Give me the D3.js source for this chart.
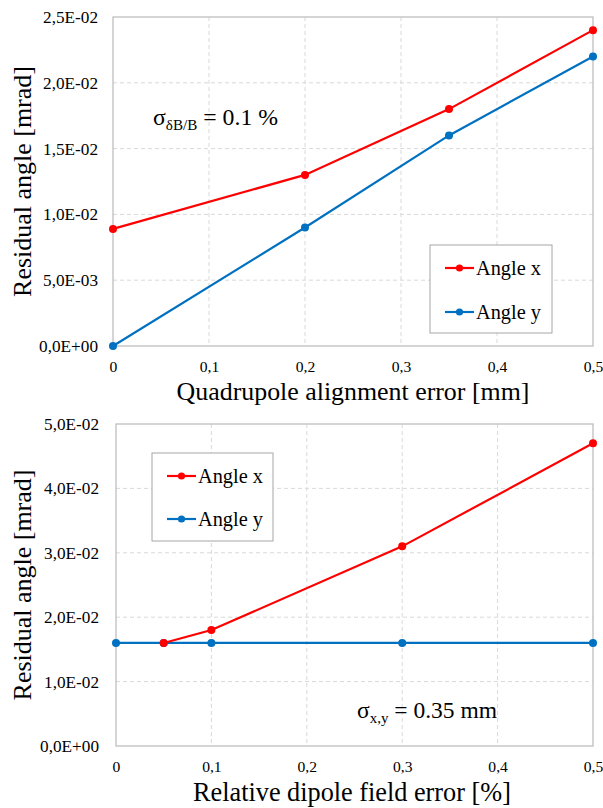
<!DOCTYPE html>
<html><head><meta charset="utf-8">
<script src="https://cdn.jsdelivr.net/npm/d3@7"></script>
<style>
body{margin:0;background:#fff}
svg text{font-family:"Liberation Serif","Tinos","Times New Roman","Times","DejaVu Serif","Noto Serif",serif;fill:#000}
</style>
</head><body>
<svg id="c" width="603" height="808"></svg>
<script>
// ---- data ----
const topXValues   = [0, 0.2, 0.35, 0.5];
const topAngleX    = [0.0089, 0.013, 0.018, 0.024];
const topAngleY    = [0, 0.009, 0.016, 0.022];
const topXTicks    = [0, 0.1, 0.2, 0.3, 0.4, 0.5];
const topYTicks    = [0, 0.005, 0.01, 0.015, 0.02, 0.025];

const botXAngleX   = [0.05, 0.1, 0.3, 0.5];
const botAngleX    = [0.016, 0.018, 0.031, 0.047];
const botXAngleY   = [0, 0.05, 0.1, 0.3, 0.5];
const botAngleY    = [0.016, 0.016, 0.016, 0.016, 0.016];
const botXTicks    = [0, 0.1, 0.2, 0.3, 0.4, 0.5];
const botYTicks    = [0, 0.01, 0.02, 0.03, 0.04, 0.05];

const seriesNames  = ["Angle x", "Angle y"];
const seriesColors = ["#ff0000", "#0070c0"];
const FONT = '"Liberation Serif","Tinos","Times New Roman","Times","DejaVu Serif","Noto Serif",serif';

// ---- formatters ----
function yFmt(v){
  if (v === 0) return "0,0E+00";
  let e = Math.floor(Math.log10(Math.abs(v)) + 1e-9);
  let m = v / Math.pow(10, e);
  let ms = m.toFixed(1).replace(".", ",");
  let es = (e < 0 ? "-" : "+") + String(Math.abs(e)).padStart(2, "0");
  return ms + "E" + es;
}
function xFmt(v){ return v === 0 ? "0" : String(+v.toFixed(2)).replace(".", ","); }

const svg = d3.select("#c");

// font-size that makes a sample string a given width
function sizeFor(str, base, target){
  const t = svg.append("text").style("font-family", FONT).style("font-size", base + "px").text(str);
  const w = t.node().getComputedTextLength();
  t.remove();
  return w > 0 ? base * target / w : base;
}
const yTickSize   = sizeFor("2,5E-02", 15, 55);
const xTickSize   = sizeFor("0,1", 15, 19.5);
const legendSize  = sizeFor("Angle x", 20, 65);
const yTitleSize  = sizeFor("Residual angle [mrad]", 24, 231);

function chart(cfg){
  const g = svg.append("g");
  const x = d3.scaleLinear().domain([0, 0.5]).range([cfg.left, cfg.right]);
  const y = d3.scaleLinear().domain([0, cfg.ymax]).range([cfg.bottom, cfg.top]);

  // gridlines
  g.selectAll(".gy").data(cfg.yTicks.slice(1, -1)).enter().append("line")
    .attr("x1", cfg.left).attr("x2", cfg.right)
    .attr("y1", d => y(d)).attr("y2", d => y(d))
    .attr("stroke", "#d9d9d9").attr("stroke-width", 1).attr("stroke-dasharray", "4,3");
  g.selectAll(".gx").data(cfg.xTicks.slice(1, -1)).enter().append("line")
    .attr("y1", cfg.top).attr("y2", cfg.bottom)
    .attr("x1", d => x(d)).attr("x2", d => x(d))
    .attr("stroke", "#d9d9d9").attr("stroke-width", 1).attr("stroke-dasharray", "4,3");

  // border
  g.append("rect").attr("x", cfg.left).attr("y", cfg.top)
    .attr("width", cfg.right - cfg.left).attr("height", cfg.bottom - cfg.top)
    .attr("fill", "none").attr("stroke", "#bfbfbf").attr("stroke-width", 1.3);

  // axes labels
  const ay = g.append("g").attr("transform", `translate(${cfg.left},0)`)
    .call(d3.axisLeft(y).tickValues(cfg.yTicks).tickFormat(yFmt).tickSize(0).tickPadding(cfg.left - cfg.yLabRight));
  ay.select(".domain").remove();
  ay.attr("font-family", null);
  ay.selectAll("text").style("font-family", FONT).style("font-size", yTickSize + "px").attr("fill", "#000");

  const ax = g.append("g").attr("transform", `translate(0,${cfg.bottom})`)
    .call(d3.axisBottom(x).tickValues(cfg.xTicks).tickFormat(xFmt).tickSize(0));
  ax.select(".domain").remove();
  ax.attr("font-family", null);
  ax.selectAll("text").style("font-family", FONT).style("font-size", xTickSize + "px")
    .attr("fill", "#000").attr("y", 26).attr("dy", null);

  // series
  cfg.series.forEach(s => {
    const pts = s.xs.map((xv, j) => [xv, s.ys[j]]);
    g.append("path").datum(pts)
      .attr("d", d3.line().x(d => x(d[0])).y(d => y(d[1])))
      .attr("fill", "none").attr("stroke", seriesColors[s.c]).attr("stroke-width", 2.2);
    g.selectAll(null).data(pts).enter().append("circle")
      .attr("cx", d => x(d[0])).attr("cy", d => y(d[1])).attr("r", 4)
      .attr("fill", seriesColors[s.c]);
  });

  // legend
  const L = cfg.legend;
  g.append("rect").attr("x", L.x).attr("y", L.y).attr("width", L.w).attr("height", L.h)
    .attr("fill", "#fff").attr("stroke", "#a6a6a6").attr("stroke-width", 1);
  seriesNames.forEach((n, i) => {
    const cy = L.y + L.r0 + i * L.dy;
    g.append("line").attr("x1", L.x + 15).attr("x2", L.x + 44).attr("y1", cy).attr("y2", cy)
      .attr("stroke", seriesColors[i]).attr("stroke-width", 2.2);
    g.append("circle").attr("cx", L.x + 29.5).attr("cy", cy).attr("r", 3.6).attr("fill", seriesColors[i]);
    g.append("text").attr("x", L.x + 46).attr("y", cy + legendSize * 0.33)
      .style("font-size", legendSize + "px").text(n);
  });

  // axis titles
  g.append("text").attr("transform", `translate(${cfg.ytX},${(cfg.top + cfg.bottom) / 2}) rotate(-90)`)
    .attr("text-anchor", "middle").style("font-size", yTitleSize + "px").text("Residual angle [mrad]");
  const xs = sizeFor(cfg.xTitle, 24, cfg.xtW);
  g.append("text").attr("x", cfg.xtX).attr("y", cfg.xtY)
    .attr("text-anchor", "middle").style("font-size", xs + "px").text(cfg.xTitle);

  // annotation
  const A = cfg.ann;
  const t = g.append("text").attr("x", A.x).attr("y", A.y).style("font-size", "22px");
  t.append("tspan").text("σ");
  const sub = t.append("tspan").attr("dy", 5).style("font-size", "14px").text(A.sub);
  const rest = t.append("tspan").attr("dy", -5).text(A.rest);
  const bw = t.node().getBBox().width;
  const k = bw > 0 ? A.w / bw : 1;
  t.style("font-size", (22 * k) + "px");
  sub.style("font-size", (14 * k) + "px").attr("dy", 5 * k);
  rest.attr("dy", -5 * k);
}

chart({
  left: 113, right: 593, top: 17, bottom: 346, ymax: 0.025, yLabRight: 98,
  xTicks: topXTicks, yTicks: topYTicks,
  series: [{xs: topXValues, ys: topAngleX, c: 0}, {xs: topXValues, ys: topAngleY, c: 1}],
  legend: {x: 430, y: 245, w: 122, h: 88, r0: 23, dy: 44},
  ytX: 31, xtX: 353, xtY: 400, xtW: 353,
  xTitle: "Quadrupole alignment error [mm]",
  ann: {x: 153, y: 125, w: 125, sub: "δB/B", rest: " = 0.1 %"}
});

chart({
  left: 116, right: 593, top: 424, bottom: 746, ymax: 0.05, yLabRight: 99,
  xTicks: botXTicks, yTicks: botYTicks,
  series: [{xs: botXAngleY, ys: botAngleY, c: 1}, {xs: botXAngleX, ys: botAngleX, c: 0}],
  legend: {x: 152, y: 453, w: 121, h: 88, r0: 23, dy: 43},
  ytX: 31, xtX: 352, xtY: 801, xtW: 318,
  xTitle: "Relative dipole field error [%]",
  ann: {x: 357, y: 718, w: 140, sub: "x,y", rest: " = 0.35 mm"}
});
</script>
</body></html>
